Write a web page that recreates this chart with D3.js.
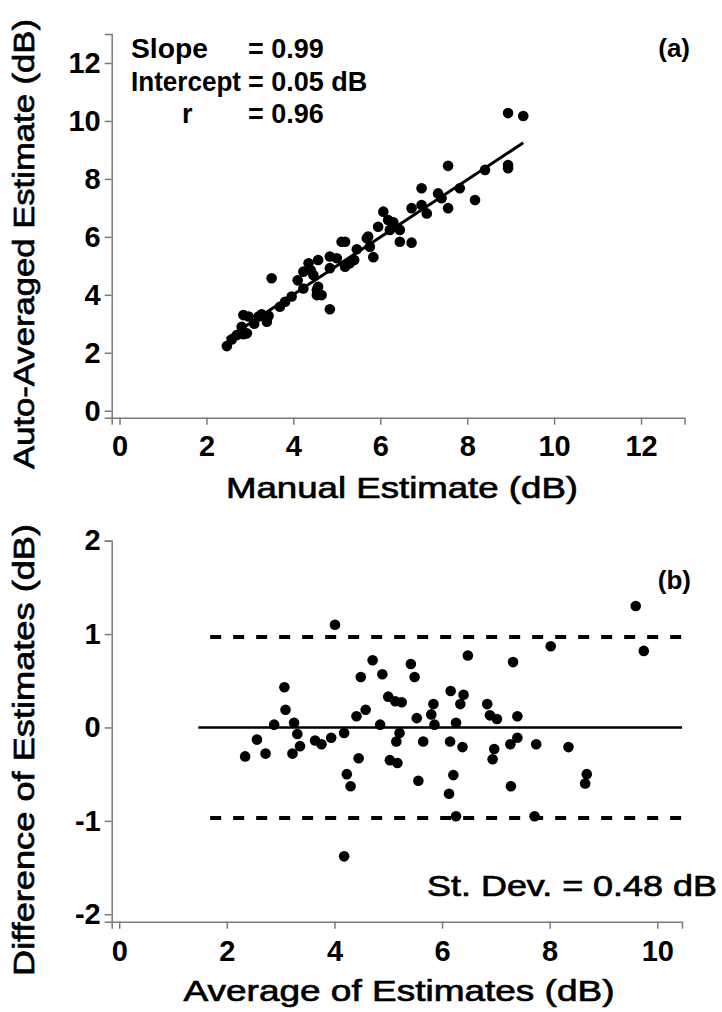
<!DOCTYPE html>
<html>
<head>
<meta charset="utf-8">
<script src="https://cdn.jsdelivr.net/npm/d3@7"></script>
<style>
  body { margin: 0; background: #fff; }
  svg { display: block; font-family: "Liberation Sans", Arial, sans-serif; }
  .axis path, .axis line { stroke: #7a7a7a; stroke-width: 1.5; }
  .axis text { font-size: 29px; font-weight: bold; fill: #000; }
  .title { font-size: 30px; fill: #000; stroke: #000; stroke-width: 0.7; }
</style>
</head>
<body>
<div id="chart"></div>
<script>
// panel (a): manual vs auto-averaged estimate (dB)
const manualEst = [2.47, 2.58, 2.70, 2.85, 2.81, 2.85, 2.97, 3.27, 3.43, 3.39, 3.50, 3.69, 3.81, 3.96, 4.23,
  4.23, 4.35, 4.46, 4.57, 4.57, 4.54, 4.65, 4.84, 4.84, 5.00, 5.11, 5.19, 5.19, 5.30, 5.46, 5.69, 5.76,
  5.84, 5.95, 6.07, 6.18, 6.22, 6.45, 6.45, 6.72, 6.72, 6.95, 6.95, 7.07, 7.33, 7.41, 7.56, 7.56, 7.83,
  8.18, 8.41, 8.94, 8.94, 8.94, 9.29, 4.84, 2.93, 3.20, 4.54, 4.40, 5.72, 6.30, 5.40, 3.10, 4.10];
const autoEst = [2.23, 2.46, 2.61, 2.64, 2.90, 3.30, 3.25, 3.33, 3.28, 3.07, 4.57, 3.59, 3.76, 3.94, 4.22,
  4.80, 5.09, 4.68, 5.20, 4.28, 3.99, 3.99, 3.50, 4.92, 5.26, 5.83, 5.83, 4.97, 5.09, 5.57, 5.95, 5.66,
  5.30, 6.35, 6.87, 6.58, 6.24, 6.24, 5.83, 5.80, 6.99, 7.68, 7.10, 6.81, 7.50, 7.33, 6.99, 8.45, 7.68,
  7.27, 8.31, 8.48, 8.37, 10.27, 10.17, 5.32, 2.67, 3.25, 4.17, 4.85, 6.01, 6.50, 5.20, 3.00, 4.50];
const fitSlope = 0.99, fitIntercept = 0.05, fitR = 0.96;

// panel (b): average vs difference of estimates (dB)
const avgEst = [4.01, 4.71, 4.49, 4.89, 3.07, 5.00, 5.13, 3.09, 4.58, 4.41, 2.88, 3.25, 4.85, 3.31, 4.18,
  2.56, 3.36, 3.64, 3.76, 3.94, 5.15, 2.34, 2.72, 3.22, 4.45, 5.03, 4.23, 4.30, 4.18,
  9.60, 9.75, 8.02, 6.48, 7.32, 5.42, 5.49, 5.25, 6.16, 6.40, 6.34, 5.84, 5.80, 6.84, 6.89, 7.02, 7.40,
  5.53, 5.86, 6.26, 5.21, 5.65, 6.15, 6.38, 7.40, 7.27, 7.75, 8.35, 6.97, 6.94, 5.17, 5.56, 6.21, 6.13,
  7.28, 8.69, 8.66, 6.26, 7.72];
const diffEst = [1.10, 0.72, 0.54, 0.57, 0.43, 0.33, 0.28, 0.19, 0.19, 0.12, 0.03, 0.05, 0.03, -0.07, -0.06,
  -0.13, -0.20, -0.14, -0.18, -0.11, -0.15, -0.31, -0.28, -0.28, -0.33, -0.35, -0.50, -0.63, -1.38,
  1.30, 0.82, 0.87, 0.77, 0.70, 0.68, 0.54, 0.27, 0.39, 0.35, 0.25, 0.25, 0.14, 0.25, 0.13, 0.09, 0.12,
  0.10, 0.03, 0.05, -0.06, -0.15, -0.15, -0.21, -0.11, -0.18, -0.18, -0.21, -0.23, -0.34, -0.38, -0.57,
  -0.51, -0.71, -0.63, -0.50, -0.60, -0.95, -0.95];
const meanDiff = 0, limitDiff = 0.97, stDev = 0.48;

const ticksA = [0, 2, 4, 6, 8, 10, 12];
const ticksBx = [0, 2, 4, 6, 8, 10];
const ticksBy = [-2, -1, 0, 1, 2];

const plainFmt = d => String(d);   // hyphen minus, no decimals

const svg = d3.select("#chart").append("svg")
    .attr("width", 722)
    .attr("height", 1012);

// ---------- panel (a)
let xa = d3.scaleLinear().domain([-0.18, 13]).range([111.7, 684.5]);
let ya = d3.scaleLinear().domain([-0.24, 13]).range([417.7, 34]);

let ga = svg.append("g");

ga.append("g").attr("class", "axis")
    .attr("transform", "translate(0," + ya.range()[0] + ")")
    .call(d3.axisBottom(xa).tickValues(ticksA).tickFormat(plainFmt).tickSizeOuter(0).tickSize(7).tickPadding(11));

ga.append("g").attr("class", "axis")
    .attr("transform", "translate(" + xa.range()[0] + ",0)")
    .call(d3.axisLeft(ya).tickValues(ticksA).tickFormat(plainFmt).tickSizeOuter(0).tickSize(7).tickPadding(4));

let xExt = d3.extent(manualEst);
ga.append("line")
    .attr("x1", xa(xExt[0])).attr("y1", ya(fitSlope * xExt[0] + fitIntercept))
    .attr("x2", xa(xExt[1])).attr("y2", ya(fitSlope * xExt[1] + fitIntercept))
    .attr("stroke", "#000").attr("stroke-width", 3);

ga.selectAll("circle")
    .data(manualEst.map((d, i) => [d, autoEst[i]]))
    .enter().append("circle")
    .attr("cx", d => xa(d[0]))
    .attr("cy", d => ya(d[1]))
    .attr("r", 5.3)
    .attr("fill", "#000");

let stats = [["Slope", "= " + fitSlope.toFixed(2), 131, 77],
             ["Intercept", "= " + fitIntercept.toFixed(2) + " dB", 131, 110],
             ["r", "= " + fitR.toFixed(2), 182, 0]];
stats.forEach((s, i) => {
    let t = ga.append("text")
        .attr("x", s[2]).attr("y", 58 + i * 32.5)
        .attr("font-size", 27).attr("font-weight", "bold")
        .text(s[0]);
    if (s[3]) t.attr("textLength", s[3]).attr("lengthAdjust", "spacingAndGlyphs");
    ga.append("text")
        .attr("x", 248).attr("y", 58 + i * 32.5)
        .attr("font-size", 27).attr("font-weight", "bold")
        .text(s[1]);
});

ga.append("text")
    .attr("x", 690).attr("y", 57).attr("text-anchor", "end")
    .attr("font-size", 26).attr("font-weight", "bold")
    .text("(a)");

ga.append("text").attr("class", "title")
    .attr("x", 402).attr("y", 498).attr("text-anchor", "middle")
    .attr("textLength", 352).attr("lengthAdjust", "spacingAndGlyphs")
    .text("Manual Estimate (dB)");

ga.append("text").attr("class", "title")
    .attr("transform", "translate(34,244) rotate(-90)")
    .attr("text-anchor", "middle")
    .attr("textLength", 450).attr("lengthAdjust", "spacingAndGlyphs")
    .text("Auto-Averaged Estimate (dB)");

// ---------- panel (b)
let xb = d3.scaleLinear().domain([-0.14, 10.46]).range([111.7, 682]);
let yb = d3.scaleLinear().domain([-2.08, 2]).range([921.7, 540.7]);

let gb = svg.append("g");

gb.append("g").attr("class", "axis")
    .attr("transform", "translate(0," + yb.range()[0] + ")")
    .call(d3.axisBottom(xb).tickValues(ticksBx).tickFormat(plainFmt).tickSizeOuter(0).tickSize(7).tickPadding(12));

gb.append("g").attr("class", "axis")
    .attr("transform", "translate(" + xb.range()[0] + ",0)")
    .call(d3.axisLeft(yb).tickValues(ticksBy).tickFormat(plainFmt).tickSizeOuter(0).tickSize(7).tickPadding(4));

gb.append("line")
    .attr("x1", xb(1.47)).attr("x2", xb(10.46))
    .attr("y1", yb(meanDiff)).attr("y2", yb(meanDiff))
    .attr("stroke", "#000").attr("stroke-width", 2.6);

[meanDiff + limitDiff, meanDiff - limitDiff].forEach(v => {
    gb.append("line")
        .attr("x1", xb(1.69)).attr("x2", xb(10.46))
        .attr("y1", yb(v)).attr("y2", yb(v))
        .attr("stroke", "#000").attr("stroke-width", 4)
        .attr("stroke-dasharray", "11,12");
});

gb.selectAll("circle")
    .data(avgEst.map((d, i) => [d, diffEst[i]]))
    .enter().append("circle")
    .attr("cx", d => xb(d[0]))
    .attr("cy", d => yb(d[1]))
    .attr("r", 5.3)
    .attr("fill", "#000");

gb.append("text")
    .attr("x", 691).attr("y", 589).attr("text-anchor", "end")
    .attr("font-size", 26).attr("font-weight", "bold")
    .text("(b)");

gb.append("text").attr("class", "title")
    .attr("x", 427).attr("y", 896)
    .style("font-size", "29px")
    .attr("textLength", 290).attr("lengthAdjust", "spacingAndGlyphs")
    .text("St. Dev. = " + stDev.toFixed(2) + " dB");

gb.append("text").attr("class", "title")
    .attr("x", 399).attr("y", 1001).attr("text-anchor", "middle")
    .attr("textLength", 431).attr("lengthAdjust", "spacingAndGlyphs")
    .text("Average of Estimates (dB)");

gb.append("text").attr("class", "title")
    .attr("transform", "translate(34,750) rotate(-90)")
    .attr("text-anchor", "middle")
    .attr("textLength", 452).attr("lengthAdjust", "spacingAndGlyphs")
    .text("Difference of Estimates (dB)");
</script>
</body>
</html>
